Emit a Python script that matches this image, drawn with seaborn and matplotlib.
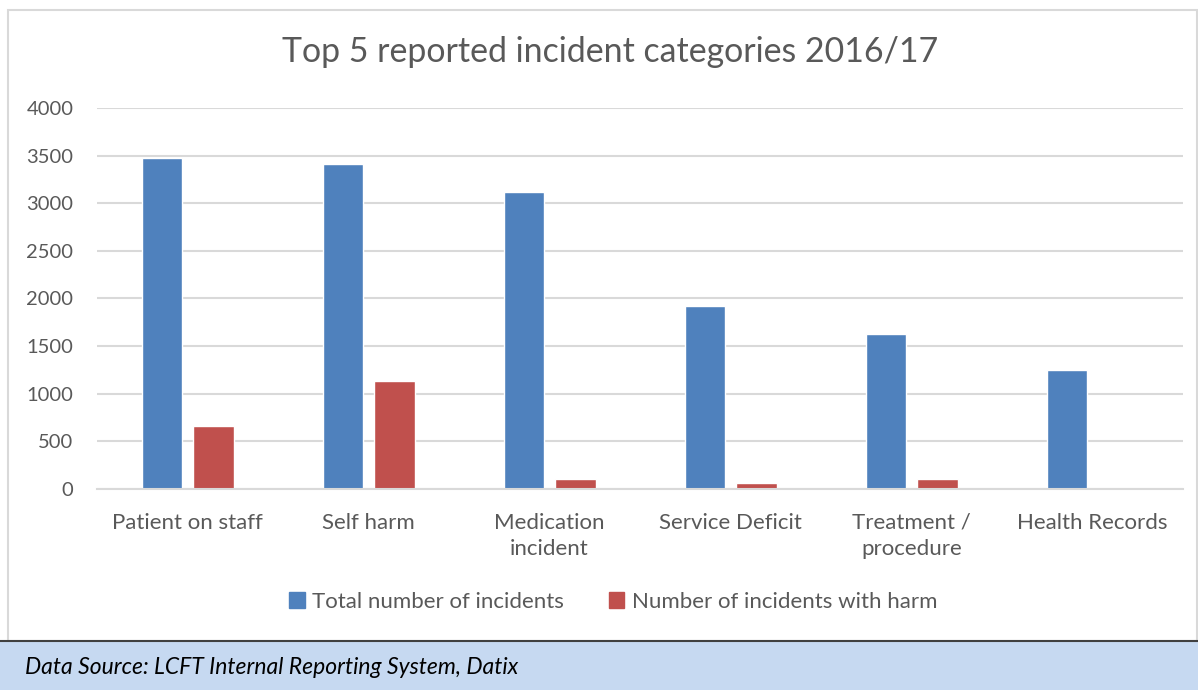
import matplotlib
matplotlib.use("Agg")
import matplotlib.pyplot as plt
from matplotlib.patches import Rectangle
from matplotlib.lines import Line2D
import pandas as pd
import seaborn as sns

# values
categories = ["Patient on staff", "Self harm", "Medication\nincident",
              "Service Deficit", "Treatment /\nprocedure", "Health Records"]
total_incidents = [3480, 3415, 3120, 1920, 1625, 1245]
harm_incidents = [665, 1130, 105, 60, 100, 0]
series_names = ["Total number of incidents", "Number of incidents with harm"]
y_ticks = [0, 500, 1000, 1500, 2000, 2500, 3000, 3500, 4000]

BLUE = "#4F81BD"
RED = "#C0504D"
TEXT = "#595959"
GRID = "#D9D9D9"

sns.set_style("white")
plt.rcParams["font.family"] = ["Lato", "DejaVu Sans"]

rows = []
for cat, tot, harm in zip(categories, total_incidents, harm_incidents):
    rows.append({"category": cat, "series": series_names[0], "count": tot})
    rows.append({"category": cat, "series": series_names[1], "count": harm})
df = pd.DataFrame(rows)

fig = plt.figure(figsize=(11.98, 6.9), dpi=100)
ax = fig.add_axes([0.081, 0.2913, 0.9065, 0.5522])

sns.barplot(data=df, x="category", y="count", hue="series", order=categories,
            hue_order=series_names, palette=[BLUE, RED], saturation=1,
            width=0.569, gap=0.213, ax=ax, legend=False)

ax.set_xlim(-0.5, len(categories) - 0.5)
ax.set_ylim(0, 4000)
ax.set_yticks(y_ticks)
ax.set_yticklabels([str(t) for t in y_ticks])
ax.set_xlabel("")
ax.set_ylabel("")
ax.grid(axis="y", color=GRID, linewidth=1.5)
ax.set_axisbelow(True)
for s in ["left", "right", "top"]:
    ax.spines[s].set_visible(False)
ax.spines["bottom"].set_color(GRID)
ax.spines["bottom"].set_linewidth(1.5)
ax.tick_params(axis="both", length=0, colors=TEXT)
ax.tick_params(axis="y", pad=17, labelsize=14.5)
ax.tick_params(axis="x", pad=17, labelsize=16)
for lab in ax.get_xticklabels():
    lab.set_linespacing(1.4)

fig.text(0.509, 0.925, "Top 5 reported incident categories 2016/17",
         ha="center", va="center", fontsize=24.4, color=TEXT)

handles = [Rectangle((0, 0), 1, 1, color=BLUE), Rectangle((0, 0), 1, 1, color=RED)]
fig.legend(handles, series_names, loc="center", bbox_to_anchor=(0.512, 0.1275),
           ncol=2, frameon=False, fontsize=16, labelcolor=TEXT,
           handlelength=0.7, handleheight=0.7, handletextpad=0.35,
           columnspacing=2.0)

# outer chart border
fig.patches.append(Rectangle((8 / 1198, 49 / 690), 1189 / 1198, 631 / 690,
                             transform=fig.transFigure, fill=False,
                             edgecolor=GRID, linewidth=1.5))
# data source band
fig.patches.append(Rectangle((0, 0), 1, 48 / 690, transform=fig.transFigure,
                             facecolor="#C6D9F1", edgecolor="none"))
fig.lines.append(Line2D([0, 1], [49 / 690, 49 / 690], transform=fig.transFigure,
                        color="#404040", linewidth=1.5))
fig.text(25 / 1198, 22 / 690, "Data Source: LCFT Internal Reporting System, Datix",
         ha="left", va="center", fontsize=16.5, style="italic", color="black")

fig.savefig("out.png", dpi=100)
